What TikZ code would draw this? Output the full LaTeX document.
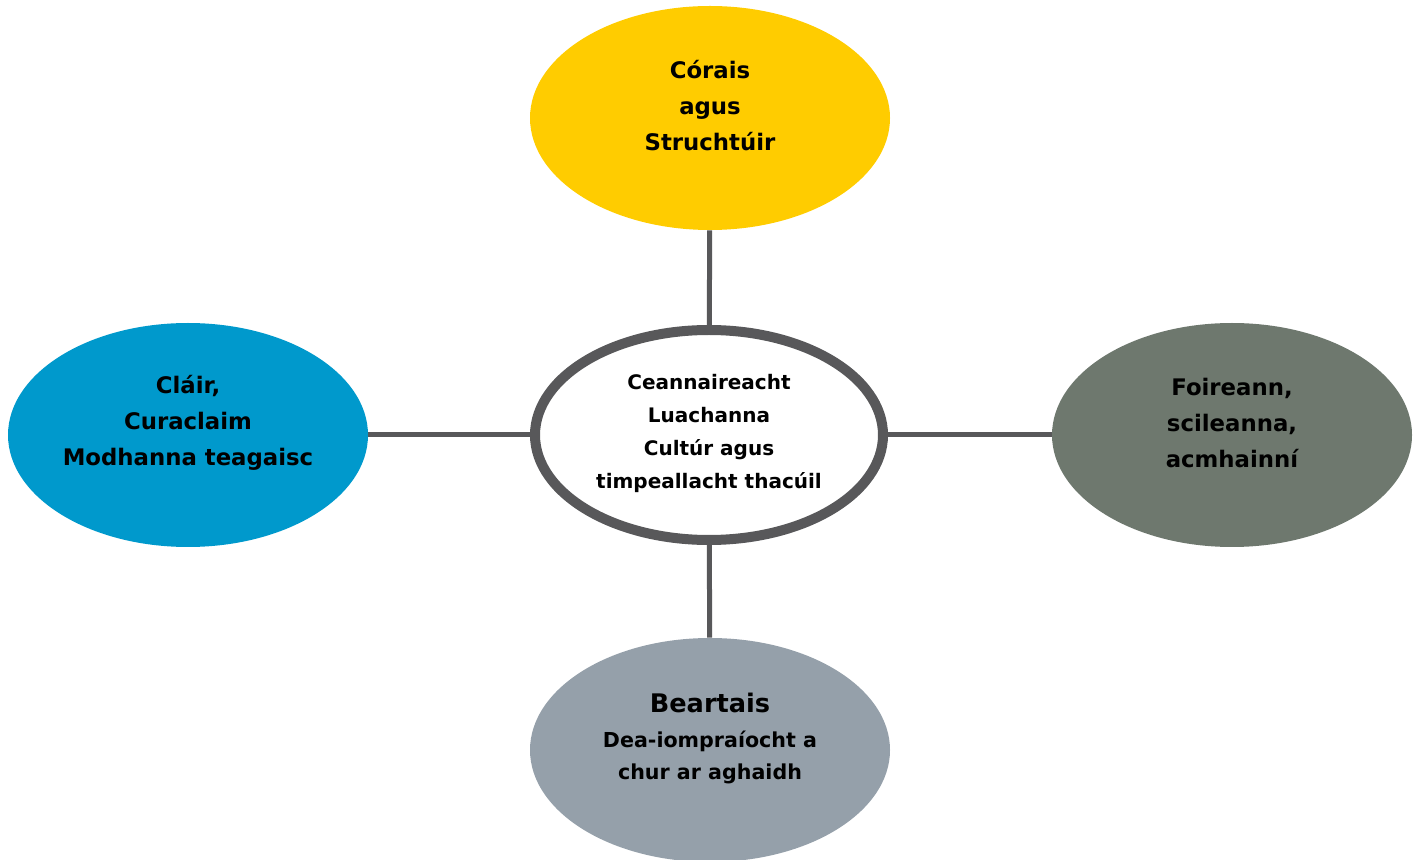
\documentclass[tikz,border=0pt]{standalone}
\usepackage{fontspec}
\setmainfont{DejaVu Sans}
\usetikzlibrary{shapes.geometric}
\definecolor{cyel}{HTML}{FFCC00}
\definecolor{cblue}{HTML}{0099CC}
\definecolor{cgreen}{HTML}{6E786E}
\definecolor{cgrey}{HTML}{95A0AA}
\definecolor{cline}{HTML}{58585A}
\tikzset{
  outer/.style={ellipse, draw=none, minimum width=180pt, minimum height=112pt, inner sep=0pt},
  hub/.style={ellipse, draw=cline, line width=5pt, fill=white, minimum width=174pt, minimum height=105pt, inner sep=0pt},
  conn/.style={draw=cline, line width=2.5pt},
  lbl/.style={align=center, font=\bfseries\fontsize{11.4}{18}\selectfont, text=black},
  hublbl/.style={align=center, font=\bfseries\fontsize{10}{16.5}\selectfont, text=black}
}
\begin{document}
\begin{tikzpicture}[x=0.5pt,y=-0.5pt]
\useasboundingbox (0,0) rectangle (1418,860);
\node[outer, fill=cyel] (top) at (710,118) {};
\node[outer, fill=cblue] (left) at (188,435) {};
\node[outer, fill=cgreen] (right) at (1232,435) {};
\node[outer, fill=cgrey] (bottom) at (710,750) {};
\node[hub] (hub) at (709,435) {};
\draw[conn] (top) -- (hub);
\draw[conn] (left) -- (hub);
\draw[conn] (right) -- (hub);
\draw[conn] (bottom) -- (hub);
\node[lbl] (toptxt) at (710,106) {Córais\\agus\\Struchtúir};
\node[lbl] (lefttxt) at (188,423) {Cláir,\\Curaclaim\\Modhanna teagaisc};
\node[lbl] (righttxt) at (1232,423) {Foireann,\\scileanna,\\acmhainní};
\node[hublbl] (hubtxt) at (709,433) {Ceannaireacht\\Luachanna\\Cultúr agus\\timpeallacht thacúil};
\node[font=\bfseries\fontsize{12.8}{18}\selectfont] (bhead) at (710,703) {Beartais};
\node[hublbl, font=\bfseries\fontsize{10.3}{16}\selectfont] (btxt) at (710,757) {Dea-iompraíocht a\\chur ar aghaidh};
\end{tikzpicture}
\end{document}
